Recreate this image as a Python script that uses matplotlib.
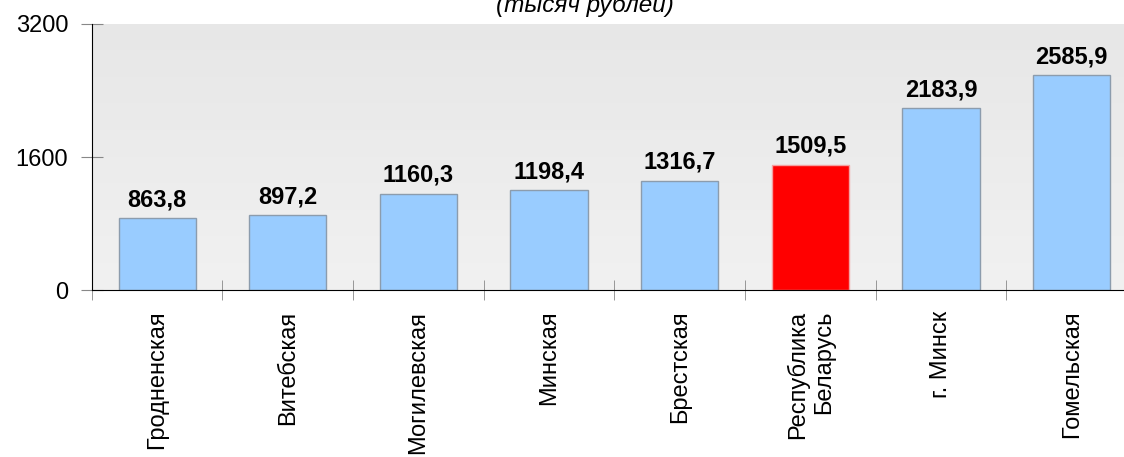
import numpy as np
import matplotlib
matplotlib.use("Agg")
import matplotlib.pyplot as plt
from matplotlib import font_manager as fm

# keep the regular-width Liberation Sans (skip the Narrow cut)
fm.fontManager.ttflist = [f for f in fm.fontManager.ttflist
                          if 'Narrow' not in f.fname and 'Narrow' not in f.name
                          and f.stretch in ('normal', 500)]
plt.rcParams['font.family'] = ['Liberation Sans', 'DejaVu Sans']

regions = ['Гродненская', 'Витебская', 'Могилевская', 'Минская', 'Брестская',
           'Республика\nБеларусь', 'г. Минск', 'Гомельская']
values = [863.8, 897.2, 1160.3, 1198.4, 1316.7, 1509.5, 2183.9, 2585.9]
colors = ['#99ccff'] * 5 + ['#ff0000'] + ['#99ccff'] * 2
edges = ['#8c9cad'] * 5 + ['#f4a0a0'] + ['#8c9cad'] * 2

fig = plt.figure(figsize=(11.24, 4.57), dpi=100)
ax = fig.add_axes([0.0816, 0.3654, 0.930, 0.5821])

# light grey gradient background
grad = np.linspace(0, 1, 256).reshape(-1, 1)
ax.imshow(grad, cmap=matplotlib.colors.LinearSegmentedColormap.from_list('bg', ['#f1f1f1', '#e7e7e7']),
          extent=[0, 1, 0, 1], transform=ax.transAxes, aspect='auto', origin='lower', zorder=0)

x = np.arange(len(values))
ax.bar(x, values, width=0.59, color=colors, edgecolor=edges, linewidth=1, zorder=2)

for xi, v in zip(x, values):
    ax.annotate(f'{v:.1f}'.replace('.', ','), (xi, v), xytext=(0, 7), textcoords='offset pixels',
                ha='center', va='bottom', fontsize=17, fontweight='bold', zorder=3)

ax.set_xlim(-0.5, 7.5)
ax.set_ylim(0, 3200)
ax.set_yticks([0, 1600, 3200])
ax.tick_params(axis='y', direction='inout', length=16, color='#888888', labelsize=17, pad=9)

ax.set_xticks(x)
ax.set_xticklabels(regions, rotation=90, fontsize=17, va='top', ha='center', multialignment='right')
ax.set_xticks(np.arange(-0.5, 8, 1), minor=True)
ax.tick_params(axis='x', which='major', length=0, pad=15)
ax.tick_params(axis='x', which='minor', direction='inout', length=14, color='#888888')

for s in ['top', 'right']:
    ax.spines[s].set_visible(False)
ax.spines['left'].set_zorder(4)
ax.spines['bottom'].set_zorder(4)

fig.text(0.5205, 1 - 12 / 457, '(тысяч рублей)', ha='center', va='baseline',
         fontsize=17.5, fontstyle='italic')

fig.savefig('out.png', dpi=100)
